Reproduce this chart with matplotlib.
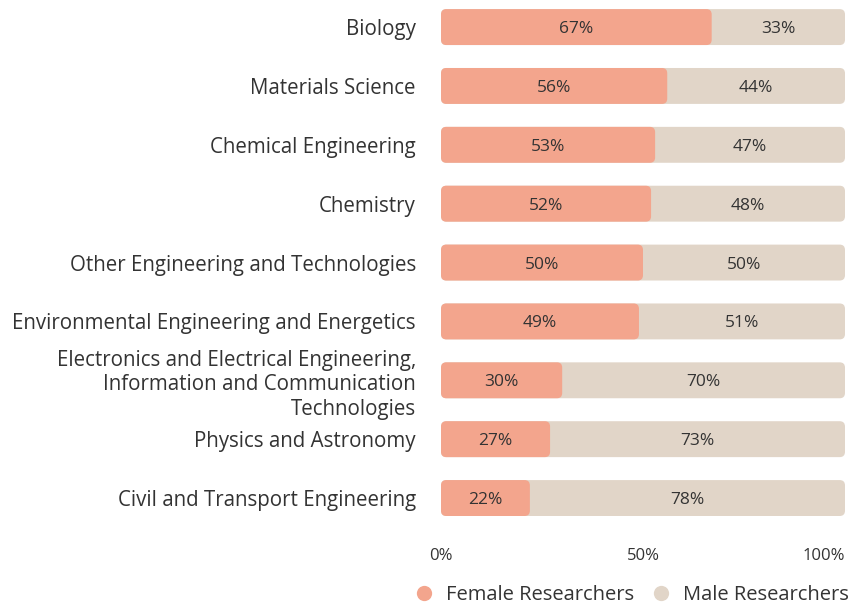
import matplotlib.pyplot as plt
from matplotlib.patches import FancyBboxPatch
from matplotlib.lines import Line2D

plt.rcParams['font.family'] = ['Open Sans', 'DejaVu Sans']

categories = [
    "Biology",
    "Materials Science",
    "Chemical Engineering",
    "Chemistry",
    "Other Engineering and Technologies",
    "Environmental Engineering and Energetics",
    "Electronics and Electrical Engineering,\nInformation and Communication\nTechnologies",
    "Physics and Astronomy",
    "Civil and Transport Engineering",
]
female = [67, 56, 53, 52, 50, 49, 30, 27, 22]
male = [33, 44, 47, 48, 50, 51, 70, 73, 78]
tick_vals = [0, 50, 100]
tick_labels = ["0%", "50%", "100%"]

female_color = "#F3A58D"
male_color = "#E1D5C8"
text_color = "#333333"


def round_bars(ax, bars, color):
    # swap plain rectangles for rounded boxes
    for b in bars:
        x, y = b.get_x(), b.get_y()
        w, h = b.get_width(), b.get_height()
        b.set_visible(False)
        ax.add_patch(FancyBboxPatch((x, y), w, h,
                                    boxstyle="round,pad=0,rounding_size=1.3",
                                    mutation_aspect=0.07,
                                    facecolor=color, edgecolor="none"))


def main():
    fig = plt.figure(figsize=(8.52, 6.06), dpi=100)
    ax = fig.add_axes([441 / 852, 75 / 606, 404 / 852, 531 / 606])

    y = list(range(len(categories)))
    total = [f + m for f, m in zip(female, male)]
    back = ax.barh(y, total, height=0.61)
    front = ax.barh(y, female, height=0.61)
    round_bars(ax, back, male_color)
    round_bars(ax, front, female_color)

    for i, (f, m) in enumerate(zip(female, male)):
        ax.text(f / 2, i, f"{f}%", ha="center", va="center_baseline",
                fontsize=12.5, color=text_color)
        ax.text(f + m / 2, i, f"{m}%", ha="center", va="center_baseline",
                fontsize=12.5, color=text_color)

    ax.set_xlim(0, 100)
    ax.set_ylim(8.56, -0.46)
    ax.set_yticks(y)
    ax.set_yticklabels(categories, fontsize=14.8, color=text_color,
                       linespacing=1.22)
    ax.set_xticks(tick_vals)
    ax.set_xticklabels(tick_labels, fontsize=12, color=text_color)
    ax.get_xticklabels()[-1].set_ha("right")
    ax.tick_params(axis="y", length=0, pad=18)
    ax.tick_params(axis="x", length=0, pad=12)
    for s in ax.spines.values():
        s.set_visible(False)

    handles = [
        Line2D([], [], marker="o", linestyle="none", markersize=11,
               markerfacecolor=female_color, markeredgecolor="none",
               label="Female Researchers"),
        Line2D([], [], marker="o", linestyle="none", markersize=11,
               markerfacecolor=male_color, markeredgecolor="none",
               label="Male Researchers"),
    ]
    fig.legend(handles=handles, loc="center right", ncol=2,
               bbox_to_anchor=(849 / 852, 1 - 595 / 606), frameon=False,
               fontsize=14.5, labelcolor=text_color, handletextpad=0.1,
               columnspacing=0.35, borderaxespad=0, borderpad=0)

    fig.savefig("out.png", dpi=100)


if __name__ == '__main__':
    main()
